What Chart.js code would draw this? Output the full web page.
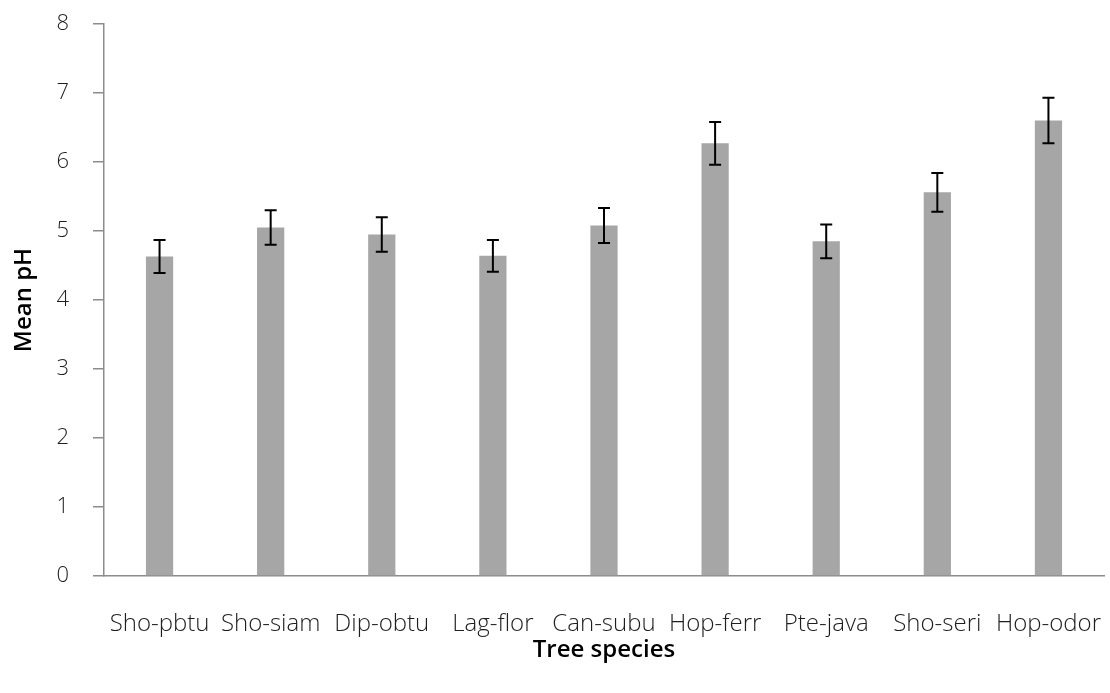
<!DOCTYPE html>
<html>
<head>
<meta charset="utf-8">
<script src="https://cdn.jsdelivr.net/npm/chart.js@4"></script>
<style>
  html, body { margin: 0; padding: 0; background: #ffffff; }
  #wrap { width: 1110px; height: 693px; position: relative; }
</style>
</head>
<body>
<div id="wrap"><canvas id="chart" width="1110" height="693"></canvas></div>
<script>
// Species codes along the x axis
const species = ['Sho-pbtu', 'Sho-siam', 'Dip-obtu', 'Lag-flor', 'Can-subu', 'Hop-ferr', 'Pte-java', 'Sho-seri', 'Hop-odor'];
// Mean soil pH per species
const meanPH = [4.63, 5.05, 4.95, 4.64, 5.08, 6.27, 4.85, 5.56, 6.60];
// Half-width of the error bar (±) per species
const errPH = [0.24, 0.25, 0.25, 0.23, 0.255, 0.31, 0.245, 0.28, 0.33];
// y-axis range and step
const yMin = 0, yMax = 8, yStep = 1;

const axisGray = '#8c8c8c';
const textColor = '#1e1e1e';
const fontFamily = '"Open Sans", "Noto Sans", sans-serif';

// Draws the ± error bars with caps on top of each bar
const errorBars = {
  id: 'errorBars',
  afterDatasetsDraw(chart) {
    const ctx = chart.ctx;
    const meta = chart.getDatasetMeta(0);
    const y = chart.scales.y;
    ctx.save();
    ctx.strokeStyle = '#000000';
    ctx.lineWidth = 2;
    meta.data.forEach((bar, i) => {
      const x = bar.x;
      const top = y.getPixelForValue(meanPH[i] + errPH[i]);
      const bot = y.getPixelForValue(meanPH[i] - errPH[i]);
      const cap = 6;
      ctx.beginPath();
      ctx.moveTo(x, top); ctx.lineTo(x, bot);
      ctx.moveTo(x - cap, top); ctx.lineTo(x + cap, top);
      ctx.moveTo(x - cap, bot); ctx.lineTo(x + cap, bot);
      ctx.stroke();
    });
    ctx.restore();
  }
};

new Chart(document.getElementById('chart'), {
  type: 'bar',
  data: {
    labels: species,
    datasets: [{
      data: meanPH,
      backgroundColor: '#a6a6a6',
      borderWidth: 0,
      categoryPercentage: 1,
      barPercentage: 0.245
    }]
  },
  options: {
    responsive: false,
    animation: false,
    events: [],
    layout: { padding: { top: 24, right: 6, left: 0, bottom: 0 } },
    plugins: { legend: { display: false }, tooltip: { enabled: false } },
    scales: {
      x: {
        grid: { display: false, drawTicks: false },
        border: { display: true, color: axisGray, width: 1.5 },
        ticks: {
          color: textColor,
          font: { family: fontFamily, size: 24, weight: 300 },
          padding: 34,
          maxRotation: 0,
          autoSkip: false
        },
        title: {
          display: true,
          text: 'Tree species',
          color: '#000000',
          font: { family: fontFamily, size: 24, weight: 600 },
          padding: { top: 0, bottom: 28 }
        },
        afterFit(scale) {
          scale.height = 117;
          scale.paddingLeft = 0;
          scale.paddingRight = 0;
        }
      },
      y: {
        min: yMin,
        max: yMax,
        grid: { drawOnChartArea: false, drawTicks: true, tickLength: 11, color: axisGray, lineWidth: 1.5 },
        border: { display: true, color: axisGray, width: 1.5 },
        ticks: {
          stepSize: yStep,
          color: textColor,
          font: { family: fontFamily, size: 22, weight: 300 },
          padding: 24
        },
        title: {
          display: true,
          text: 'Mean pH',
          color: '#000000',
          font: { family: fontFamily, size: 24, weight: 600 },
          padding: { top: 10, bottom: 0 }
        },
        afterFit(scale) {
          scale.width = 104;
          scale.paddingTop = 0;
          scale.paddingBottom = 0;
        }
      }
    }
  },
  plugins: [errorBars]
});
</script>
</body>
</html>
